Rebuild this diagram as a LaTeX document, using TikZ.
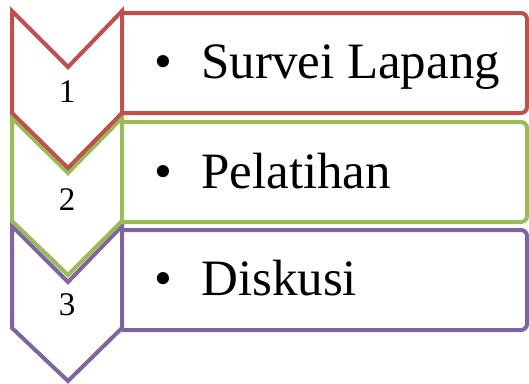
\documentclass[tikz,border=0pt]{standalone}
\usepackage{fontspec}
\setmainfont{Liberation Serif}
\definecolor{cred}{HTML}{C0504D}
\definecolor{cgreen}{HTML}{9BBB59}
\definecolor{cpurple}{HTML}{8064A2}
\begin{document}
\begin{tikzpicture}[x=1pt,y=-1pt,
  chev/.style={line width=4pt, fill=white, line join=miter},
  box/.style={line width=4pt, rounded corners=6pt},
  lbl/.style={font=\fontsize{51}{60}\selectfont, anchor=base west, inner sep=0pt},
  num/.style={font=\fontsize{33}{40}\selectfont, anchor=base, inner sep=0pt}]
\useasboundingbox (0,0) rectangle (529,383);
% purple
\draw[chev, draw=cpurple] (12,226) -- (68,282) -- (122,226) -- (122,328) -- (68,381) -- (12,328) -- cycle;
\draw[box, draw=cpurple] (122,230) -- (527,230) -- (527,330) -- (122,330);
% green
\draw[chev, draw=cgreen] (12,118) -- (68,173) -- (122,118) -- (122,221) -- (68,275) -- (12,221) -- cycle;
\draw[box, draw=cgreen] (122,122) -- (527,122) -- (527,222) -- (122,222);
% red
\draw[chev, draw=cred] (12,11) -- (68,67) -- (122,11) -- (122,113) -- (68,168) -- (12,113) -- cycle;
\draw[box, draw=cred] (122,13) -- (527,13) -- (527,113) -- (122,113);
% numbers
\node[num] (n1) at (67,102) {1};
\node[num] (n2) at (67,210) {2};
\node[num] (n3) at (67,315) {3};
% bullets and labels
\node[lbl] (b1) at (154,78) {•};
\node[lbl] (t1) at (201,78) {Survei Lapang};
\node[lbl] (b2) at (154,188) {•};
\node[lbl] (t2) at (201,188) {Pelatihan};
\node[lbl] (b3) at (154,295) {•};
\node[lbl] (t3) at (201,295) {Diskusi};
\end{tikzpicture}
\end{document}
